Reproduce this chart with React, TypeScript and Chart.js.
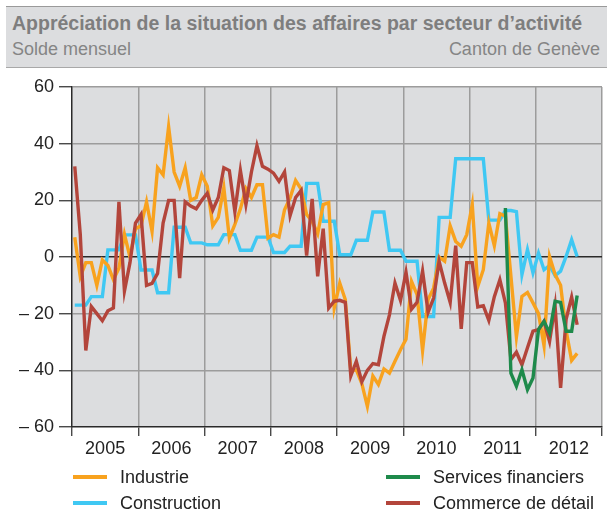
import React, { useEffect, useRef } from 'react';
import { Chart, registerables } from 'chart.js';

Chart.register(...registerables);

// Monthly balances, January 2005 onwards
const years = ['2005', '2006', '2007', '2008', '2009', '2010', '2011', '2012'];
const monthsPerYear = 12;

const industrie = [
  7, -7, -2, -2, -10, -1, -3, -8, -4, 8, 0, 10,
  11, 19.5, 9, 31.5, 29, 46, 30, 25, 31.5, 20, 21, 29,
  25, 11, 14, 24.5, 6.7, 11.5, 17, 24.2, 21, 25.5, 25.5, 6.7,
  7.9, 7, 16.7, 20.8, 27, 24, 15, 12.6, 8.2, 18.5, 19.2, -18,
  -9.2, -15, -40, -39.8, -44.7, -52.7, -42, -45, -39.5, -41, -36.8, -32.7,
  -29, -8.6, -13.3, -33, -15, -11, 0, -1.5, 11, 5.5, 3.8, 7.9,
  18.5, -10.4, -4.5, 12, 4, 15.3, 14.4, -6.8, -28.2, -13.9, -12.5, -16.2,
  -20, -31.3, 0.2, -6.2, -10, -26, -36.5, -34,
];

const construction = [
  -17, -17, -17, -14, -14, -14, 2.5, 2.5, 2.5, 7.8, 7.8, 7.8,
  -4.6, -4.6, -4.6, -12.6, -12.6, -12.6, 10.5, 10.5, 10.5, 5, 5, 5,
  4.3, 4.3, 4.3, 7.9, 7.9, 7.9, 2.4, 2.4, 2.4, 7, 7, 7,
  1.6, 1.6, 1.6, 3.8, 3.8, 3.8, 26, 26, 26, 12.6, 12.6, 12.6,
  0.8, 0.8, 0.8, 5.9, 5.9, 5.9, 15.9, 15.9, 15.9, 2.4, 2.4, 2.4,
  -1.5, -1.5, -1.5, -21, -21, -21, 14, 14, 14, 34.7, 34.7, 34.7,
  34.7, 34.7, 34.7, 13, 13, 13, 16.4, 16.4, 16, -6.2, 2.6, -5.6,
  1.4, -4.5, -3, -6.6, -5, 0.2, 6.1, 0.2,
];

const commerce = [
  32, 8, -33, -17.5, -20, -22.5, -19, -18, 19.5, -12, -2, 12,
  15, -10, -9.3, -5.8, 12, 20, 20, -7.5, 19.5, 18, 17, 20,
  22.5, 16.6, 21, 31.5, 30.5, 16, 30.6, 18.5, 30, 39.3, 32, 31,
  29.6, 26.7, 30, 14.6, 21, 23.5, 0.5, 20.5, -6.8, 10, -18, -15.6,
  -15.3, -16, -42, -36.8, -44, -40, -37.6, -38, -28, -20.4, -9.2, -15.3,
  -5.4, -18.4, -16, -5, -19.5, -14.5, -1.5, -9.2, -16, 4, -25.4, -2,
  -2, -17.6, -17.2, -22.4, -14, -8, -16.2, -36.2, -33.6, -38, -32, -26.2,
  -25.6, -22.7, -29.8, -17.2, -46.2, -22, -14.1, -23.9,
];

// Services financiers start in July 2011 (month index 78)
const servicesStart = 78;
const services = [
  17.3, -41, -45.6, -39.8, -46.8, -42.7, -25.6, -22.7, -26.8, -15.6, -16, -26.2, -26.2, -13.6,
];

const yMin = -60;
const yMax = 60;
const yStep = 20;

const COLORS = {
  industrie: '#f8a21e',
  construction: '#3fc8f3',
  services: '#1e8a4b',
  commerce: '#b3453b',
};

const FONT = '"Liberation Sans", Arial, Helvetica, sans-serif';
const BG = '#dcdddf';
const GRID = '#9c9c9c';
const AXIS = '#2a2a2a';

const toPoints = (vals: number[], start = 0) =>
  vals.map((v, k) => ({ x: start + k + 0.5, y: v }));

const plotBg = {
  id: 'plotBg',
  beforeDraw(chart: any) {
    const { ctx, chartArea: a } = chart;
    ctx.save();
    ctx.fillStyle = BG;
    ctx.fillRect(a.left, a.top, a.right - a.left, a.bottom - a.top);
    ctx.restore();
  },
};

function ChartCanvas() {
  const ref = useRef<HTMLCanvasElement | null>(null);
  useEffect(() => {
    if (!ref.current) return;
    const totalMonths = years.length * monthsPerYear;
    const line = (label: string, data: any[], color: string) => ({
      label,
      data,
      borderColor: color,
      backgroundColor: color,
      borderWidth: 3.4,
      pointRadius: 0,
      tension: 0,
      fill: false,
      borderJoinStyle: 'miter' as const,
    });
    const chart = new Chart(ref.current, {
      type: 'line',
      data: {
        datasets: [
          line('Services financiers', toPoints(services, servicesStart), COLORS.services),
          line('Commerce de détail', toPoints(commerce), COLORS.commerce),
          line('Industrie', toPoints(industrie), COLORS.industrie),
          line('Construction', toPoints(construction), COLORS.construction),
        ],
      },
      options: {
        animation: false,
        responsive: false,
        devicePixelRatio: 1,
        parsing: false,
        normalized: true,
        layout: { padding: { left: 0, right: 5, top: 19, bottom: 7 } },
        plugins: {
          legend: { display: false },
          tooltip: { enabled: false },
          title: { display: false },
        },
        scales: {
          x: {
            type: 'linear',
            min: 0,
            max: totalMonths,
            afterBuildTicks: (scale: any) => {
              const t = [];
              for (let v = 0; v <= totalMonths; v += monthsPerYear / 2) t.push({ value: v });
              scale.ticks = t;
            },
            afterFit: (scale: any) => {
              scale.height = 34;
            },
            grid: {
              color: (ctx: any) =>
                ctx.tick && ctx.tick.value % monthsPerYear === 0 && ctx.tick.value !== 0 ? GRID : 'rgba(0,0,0,0)',
              tickColor: (ctx: any) =>
                ctx.tick && ctx.tick.value % monthsPerYear === 0 ? AXIS : 'rgba(0,0,0,0)',
              lineWidth: 1.5,
              tickWidth: 1.2,
              tickLength: 9,
            },
            border: { color: AXIS, width: 1.5 },
            ticks: {
              autoSkip: false,
              maxRotation: 0,
              padding: 2,
              color: '#222',
              font: { family: FONT, size: 18 },
              callback: (v: any) => {
                const n = Number(v);
                return n % monthsPerYear === monthsPerYear / 2 ? years[(n - monthsPerYear / 2) / monthsPerYear] : '';
              },
            },
          },
          y: {
            type: 'linear',
            min: yMin,
            max: yMax,
            afterFit: (scale: any) => {
              scale.width = 72;
            },
            grid: {
              color: (ctx: any) => {
                const v = ctx.tick ? ctx.tick.value : null;
                if (v === 0) return AXIS;
                if (v === yMin) return 'rgba(0,0,0,0)';
                return GRID;
              },
              lineWidth: 1.5,
              tickColor: AXIS,
              tickWidth: 1.2,
              tickLength: 13,
            },
            border: { color: AXIS, width: 1.5 },
            ticks: {
              stepSize: yStep,
              padding: 5,
              color: '#222',
              font: { family: FONT, size: 18 },
              callback: (v: any) => {
                const n = Number(v);
                return n < 0 ? '\u2013 ' + Math.abs(n) : String(n);
              },
            },
          },
        },
      },
      plugins: [plotBg],
    });
    return () => chart.destroy();
  }, []);
  return <canvas ref={ref} width={607} height={400} style={{ display: 'block', width: 607, height: 400 }} />;
}

const legendItems = [
  { label: 'Industrie', color: COLORS.industrie, col: 0, row: 0 },
  { label: 'Services financiers', color: COLORS.services, col: 1, row: 0 },
  { label: 'Construction', color: COLORS.construction, col: 0, row: 1 },
  { label: 'Commerce de détail', color: COLORS.commerce, col: 1, row: 1 },
];

export default function App() {
  const colX = [73, 386];
  const rowY = [477, 503];
  return (
    <div
      style={{
        position: 'absolute',
        left: 0,
        top: 0,
        width: 607,
        height: 512,
        background: '#ffffff',
        fontFamily: FONT,
        overflow: 'hidden',
      }}
    >
      <div
        style={{
          position: 'absolute',
          left: 6,
          top: 6,
          width: 601,
          height: 60,
          background: BG,
          borderTop: '1px solid #9a9a9a',
          borderBottom: '1px solid #a8a8a8',
        }}
      />
      <div
        style={{
          position: 'absolute',
          left: 12,
          top: 13,
          fontSize: 19.5,
          lineHeight: '20px',
          fontWeight: 'bold',
          color: '#7e7e7e',
          whiteSpace: 'nowrap',
        }}
      >
        Appréciation de la situation des affaires par secteur d’activité
      </div>
      <div
        style={{
          position: 'absolute',
          left: 12,
          top: 39,
          fontSize: 18,
          lineHeight: '20px',
          color: '#858585',
          whiteSpace: 'nowrap',
        }}
      >
        Solde mensuel
      </div>
      <div
        style={{
          position: 'absolute',
          right: 7,
          top: 39,
          fontSize: 18,
          lineHeight: '20px',
          color: '#858585',
          whiteSpace: 'nowrap',
        }}
      >
        Canton de Genève
      </div>
      <div style={{ position: 'absolute', left: 0, top: 68, width: 607, height: 400 }}>
        <ChartCanvas />
      </div>
      {legendItems.map((it) => (
        <React.Fragment key={it.label}>
          <div
            style={{
              position: 'absolute',
              left: colX[it.col],
              top: rowY[it.row] - 2,
              width: 34,
              height: 4,
              background: it.color,
            }}
          />
          <div
            style={{
              position: 'absolute',
              left: colX[it.col] + 47,
              top: rowY[it.row] - 10,
              fontSize: 18,
              lineHeight: '20px',
              color: '#222',
              whiteSpace: 'nowrap',
            }}
          >
            {it.label}
          </div>
        </React.Fragment>
      ))}
    </div>
  );
}
